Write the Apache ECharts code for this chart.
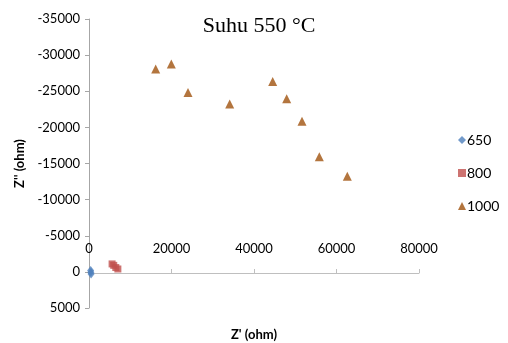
<!DOCTYPE html>
<html>
<head>
<meta charset="utf-8">
<script src="https://cdn.jsdelivr.net/npm/echarts@6/dist/echarts.min.js"></script>
<style>
  html, body { margin: 0; padding: 0; background: #fff; }
  #main { width: 508px; height: 343px; }
</style>
</head>
<body>
<div id="main"></div>
<script>
  // data: [Z', Z'']
  var s650 = [[400, -200], [450, 50], [500, 300]];
  var s800 = [[5600, -1100], [6000, -900], [6500, -600], [7000, -400]];
  var s1000 = [
    [16170, -28070], [19950, -28760], [24000, -24840], [34110, -23240],
    [44530, -26360], [47930, -23970], [51640, -20850], [55830, -15940],
    [62620, -13230]
  ];
  var seriesNames = ['650', '800', '1000'];

  var myChart = echarts.init(document.getElementById('main'));
  var font = 'Lato, "Open Sans", sans-serif';
  var plain = function (v) { return String(v); };

  // grid 0 holds the points, grid 1 only draws the x axis sitting on Z''=0
  var option = {
    animation: false,
    title: {
      text: 'Suhu 550 °C',
      left: 254,
      top: 10,
      textAlign: 'center',
      textStyle: { fontFamily: '"Liberation Serif", serif', fontSize: 22, fontWeight: 'normal', color: '#000' }
    },
    legend: {
      orient: 'vertical',
      left: 453,
      top: 128,
      itemWidth: 8,
      itemHeight: 8,
      itemGap: 19,
      data: seriesNames,
      textStyle: { fontFamily: font, fontSize: 14, color: '#000', padding: [0, 0, 0, -4] }
    },
    grid: [
      { left: 89, top: 19, right: 89, bottom: 35, containLabel: false, outerBoundsMode: 'none' },
      { left: 89, top: 19, right: 89, bottom: 70, containLabel: false, outerBoundsMode: 'none' }
    ],
    xAxis: [
      {
        gridIndex: 0,
        type: 'value',
        min: 0, max: 80000, interval: 20000,
        name: "Z' (ohm)",
        nameLocation: 'middle',
        nameGap: 20,
        nameTextStyle: { fontFamily: font, fontSize: 13, fontWeight: 'bold', color: '#000' },
        axisLine: { show: false, onZero: false },
        axisTick: { show: false },
        axisLabel: { show: false },
        splitLine: { show: false }
      },
      {
        gridIndex: 1,
        type: 'value',
        position: 'bottom',
        min: 0, max: 80000, interval: 20000,
        axisLine: { show: true, onZero: false, lineStyle: { color: '#bfbfbf' } },
        axisTick: { show: true, inside: true, length: 4, lineStyle: { color: '#bfbfbf' } },
        axisLabel: { inside: true, margin: 18, fontFamily: font, fontSize: 13, color: '#000', formatter: plain },
        splitLine: { show: false }
      }
    ],
    yAxis: [
      {
        gridIndex: 0,
        type: 'value',
        inverse: true,
        min: -35000, max: 5000, interval: 5000,
        name: "Z'' (ohm)",
        nameLocation: 'middle',
        nameGap: 55,
        nameTextStyle: { fontFamily: font, fontSize: 13, fontWeight: 'bold', color: '#000' },
        axisLine: { show: true, onZero: false, lineStyle: { color: '#a6a6a6' } },
        axisTick: { show: true, length: 4, lineStyle: { color: '#a6a6a6' } },
        axisLabel: { margin: 9, fontFamily: font, fontSize: 13, color: '#000', formatter: plain },
        splitLine: { show: false }
      },
      {
        gridIndex: 1,
        type: 'value',
        show: false,
        inverse: true,
        min: -35000, max: 0
      }
    ],
    series: [
      { name: '650', type: 'scatter', symbol: 'diamond', symbolSize: [7, 9], itemStyle: { color: '#4f81bd' }, data: s650 },
      { name: '800', type: 'scatter', symbol: 'rect', symbolSize: 7, itemStyle: { color: '#c0504d' }, data: s800 },
      { name: '1000', type: 'scatter', symbol: 'triangle', symbolSize: [9, 9], itemStyle: { color: '#a0520e' }, data: s1000 }
    ]
  };
  myChart.setOption(option);
</script>
</body>
</html>
